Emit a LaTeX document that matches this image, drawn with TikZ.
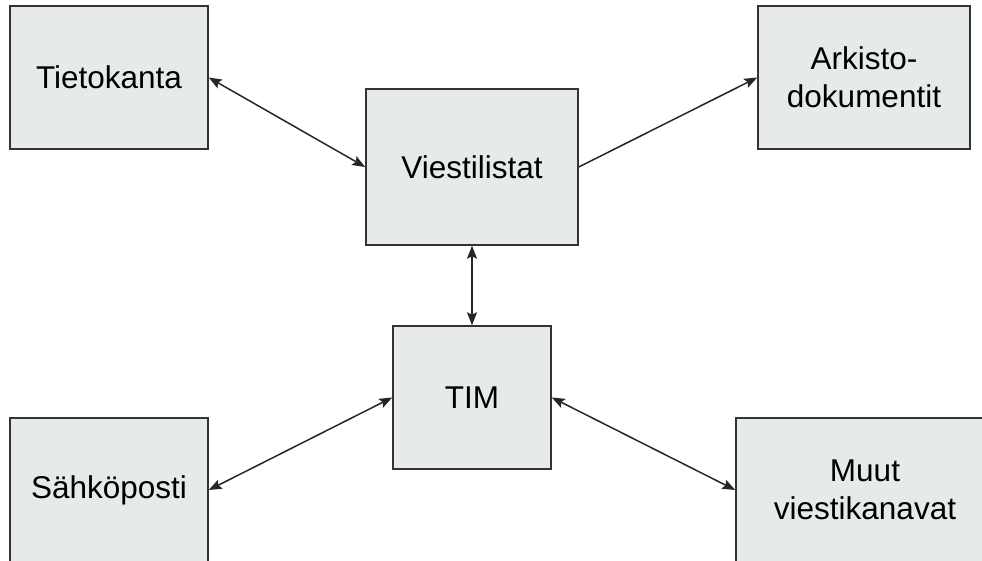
\documentclass[tikz,border=0pt]{standalone}
\usepackage{fontspec}
\setmainfont{Liberation Sans}
\usepackage{xcolor}
\usepackage{tikz}
\usetikzlibrary{arrows.meta}
\definecolor{boxfill}{RGB}{231,234,235}
\definecolor{boxline}{RGB}{51,51,51}

\begin{document}
\begin{tikzpicture}[x=1pt,y=-1pt]
\tikzstyle{every node}+=[inner sep=0pt]
\tikzstyle{blok}=[draw=boxline,fill=boxfill,line width=1.5pt,align=center,font=\fontsize{31.5}{38}\selectfont]
\tikzstyle{nuoli}=[line width=1.5pt,color=black!85,>={Stealth[length=13pt,width=10pt,inset=2.5pt]}]
\useasboundingbox (0,0) rectangle (982,560);
\clip (0,0) rectangle (982,560);
\node [blok,minimum width=198,minimum height=143] (tieto) at (109,77.5) {Tietokanta};
\node [blok,minimum width=212,minimum height=156] (viesti) at (472,167) {Viestilistat};
\node [blok,minimum width=212,minimum height=143] (arkisto) at (864,77.5) {Arkisto-\\dokumentit};
\node [blok,minimum width=158,minimum height=143] (tim) at (472,397.5) {TIM};
\node [blok,minimum width=198,minimum height=144] (sahko) at (109,490) {Sähköposti};
\node [blok,minimum width=258,minimum height=144] (muut) at (865,490) {Muut\\viestikanavat};
\draw [nuoli,<->] (tieto.east) -- (viesti.west);
\draw [nuoli,->] (viesti.east) -- (arkisto.west);
\draw [nuoli,<->] (viesti.south) -- (tim.north);
\draw [nuoli,<->] (tim.west) -- (sahko.east);
\draw [nuoli,<->] (tim.east) -- (muut.west);
\end{tikzpicture}
\end{document}
